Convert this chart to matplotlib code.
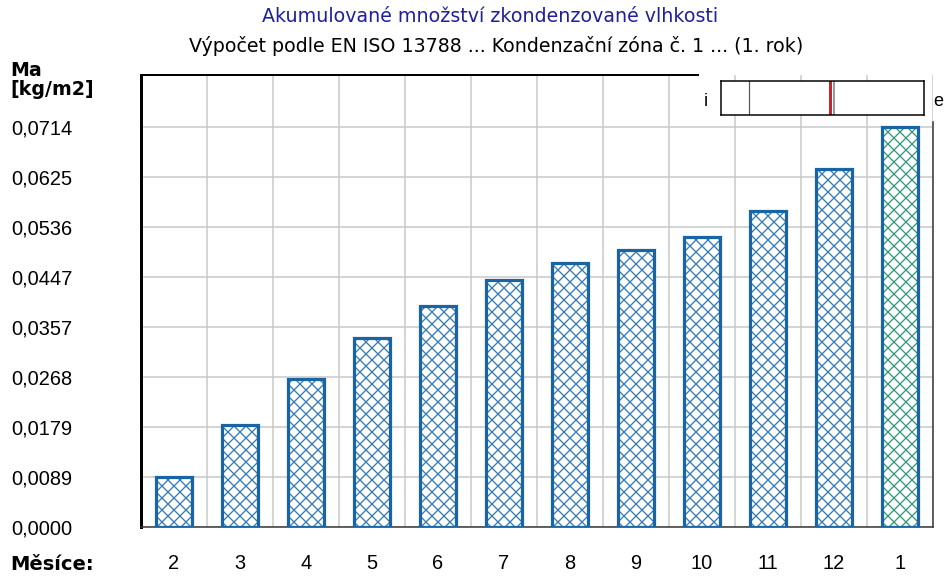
import numpy as np
import matplotlib
matplotlib.use("Agg")
from matplotlib import pyplot as plt

plt.rcParams['font.family'] = ['Liberation Sans', 'DejaVu Sans']
plt.rcParams['hatch.linewidth'] = 1.3

# Data
months = ['2', '3', '4', '5', '6', '7', '8', '9', '10', '11', '12', '1']
moisture = np.array([0.0089, 0.0182, 0.0264, 0.0337, 0.0395, 0.0441, 0.0472, 0.0494,
                     0.0518, 0.0565, 0.0639, 0.07145])
highlight = 11  # last month shown with green hatch

title = 'Akumulované množství zkondenzované vlhkosti'
subtitle = 'Výpočet podle EN ISO 13788 ... Kondenzační zóna č. 1 ... (1. rok)'
ylabel = 'Ma\n[kg/m2]'
xlabel = 'Měsíce:'

# position of the zone inside the construction (i ... e)
zone_left = 0.14
zone_marker = 0.537

W, H, DPI = 946, 578, 72
fig = plt.figure(figsize=(W / DPI, H / DPI), dpi=DPI)
ax = fig.add_axes([141 / W, 51 / H, (933 - 141) / W, (527 - 75) / H])

blue = '#1b64a4'
hatch_blue = '#3579b5'
green = '#2f9a78'
x = np.arange(len(months))

hatch_cols = [green if i == highlight else hatch_blue for i in range(len(months))]
ax.bar(x, moisture, width=0.555, color='white', edgecolor=hatch_cols, hatch='xx',
       linewidth=0, zorder=3)
ax.bar(x, moisture, width=0.555, fill=False, edgecolor=blue, linewidth=3.2, zorder=4)

step = moisture.max() / 8
yticks = np.arange(9) * step
ax.set_ylim(0, 9.04 * step)
ax.set_xlim(-0.5, len(months) - 0.5)
ax.set_yticks(yticks)
ax.set_yticklabels([f'{v:.4f}'.replace('.', ',') for v in yticks], ha='left', fontsize=20)
ax.tick_params(axis='y', length=0, pad=130)
ax.set_xticks(x)
ax.set_xticklabels(months, fontsize=20)
ax.tick_params(axis='x', length=0, pad=27)
ax.set_xticks(np.arange(len(months) + 1) - 0.5, minor=True)
ax.tick_params(which='minor', length=0)
ax.grid(True, which='minor', axis='x', color='#c8c8c8', lw=1.5, zorder=0)
ax.grid(True, which='major', axis='y', color='#c8c8c8', lw=1.5, zorder=0)

for s in ['top', 'right']:
    ax.spines[s].set_visible(False)
ax.spines['left'].set_linewidth(3)
ax.spines['bottom'].set_linewidth(1.5)
ax.spines['bottom'].set_color('#333333')
# partial top and right border (interrupted by the i/e box)
ax.plot([-0.5, -0.5 + (698 - 141) / 66.0], [1, 1], transform=ax.get_xaxis_transform(),
        color='black', lw=2, clip_on=False, zorder=5)
ax.plot([1, 1], [0, (527 - 122) / (527 - 75)], transform=ax.transAxes,
        color='#333333', lw=1.5, clip_on=False, zorder=5)

fig.text(490 / W, 1 - 17 / H, title, ha='center', va='center', fontsize=19,
         color='#1f1fa0', family='DejaVu Sans')
fig.text(496 / W, 1 - 46 / H, subtitle, ha='center', va='center', fontsize=19,
         color='black', family='DejaVu Sans')
fig.text(10 / W, 1 - 80 / H, ylabel, ha='left', va='center', fontsize=19,
         fontweight='bold', linespacing=1.0, family='DejaVu Sans')
fig.text(10 / W, 1 - 564 / H, xlabel, ha='left', va='center', fontsize=19.5,
         fontweight='bold', family='DejaVu Sans')

# i / e construction box
bx = fig.add_axes([721 / W, 1 - 115 / H, 203 / W, 34 / H])
bx.set_xlim(0, 1)
bx.set_ylim(0, 1)
bx.set_xticks([])
bx.set_yticks([])
for s in bx.spines.values():
    s.set_linewidth(1.5)
bx.axvline(zone_left, color='#555555', lw=1.2)
bx.axvline(zone_marker + 0.02, color='#999999', lw=2)
bx.axvline(zone_marker, color='#c0282d', lw=3)
fig.text(706 / W, 1 - 102 / H, 'i', ha='center', va='center', fontsize=18)
fig.text(938 / W, 1 - 102 / H, 'e', ha='center', va='center', fontsize=18)

fig.savefig('out.png', dpi=DPI)
